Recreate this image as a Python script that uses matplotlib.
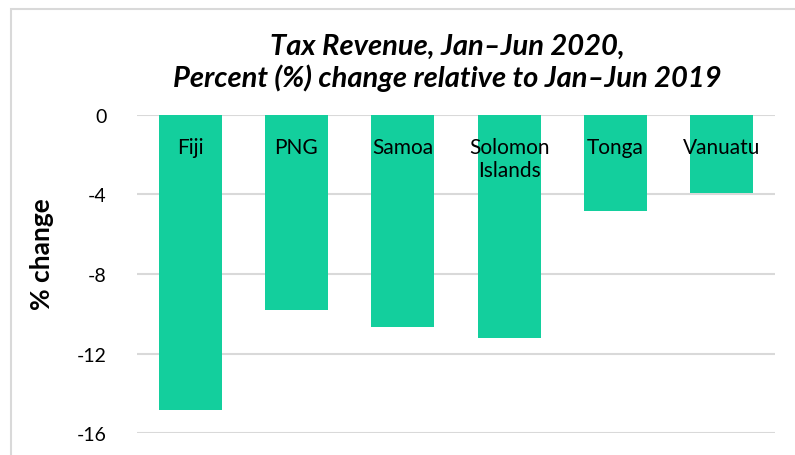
import matplotlib.pyplot as plt
from matplotlib.patches import Rectangle

# Dati
paesi = ["Fiji", "PNG", "Samoa", "Solomon\nIslands", "Tonga", "Vanuatu"]
variazione = [-14.83, -9.81, -10.65, -11.2, -4.84, -3.92]
tick_y = [0, -4, -8, -12, -16]

plt.rcParams["font.family"] = ["Lato", "DejaVu Sans"]

fig = plt.figure(figsize=(7.95, 4.56), dpi=100)

# Cornice del grafico (esce dal bordo a destra e in basso)
fig.patches.append(Rectangle((11 / 795, -0.1), 1.2, 1 - 10 / 456 + 0.1,
                             transform=fig.transFigure, fill=False,
                             edgecolor="#d9d9d9", linewidth=1.5))

ax = fig.add_axes([137 / 795, 1 - 434.3 / 456, 638 / 795, (434.3 - 115.7) / 456])

x = range(len(paesi))
ax.bar(x, variazione, width=0.59, color="#13cf9d", zorder=2)

for i, nome in enumerate(paesi):
    ax.annotate(nome, (i, 0), xytext=(0, -16), textcoords="offset points",
                ha="center", va="top", fontsize=15, linespacing=1.2, zorder=3)

ax.set_xlim(-0.5, len(paesi) - 0.5)
ax.set_ylim(-16, 0)
ax.set_yticks(tick_y)
ax.set_yticklabels([str(t) for t in tick_y], fontsize=14)
ax.set_xticks([])
ax.grid(axis="y", color="#d9d9d9", linewidth=1.5, zorder=0)
ax.tick_params(axis="y", length=0, pad=22)
for s in ax.spines.values():
    s.set_visible(False)

ax.set_ylabel("% change", fontsize=19, fontweight="bold")
ax.yaxis.set_label_coords((54 - 137) / 638, (434.3 - 254) / 318.6)

fig.text(0.563, 0.863, "Tax Revenue, Jan–Jun 2020,\nPercent (%) change relative to Jan–Jun 2019",
         ha="center", va="center", fontsize=21, fontweight="bold", style="italic",
         linespacing=1.2)

fig.savefig("out.png", dpi=100)
